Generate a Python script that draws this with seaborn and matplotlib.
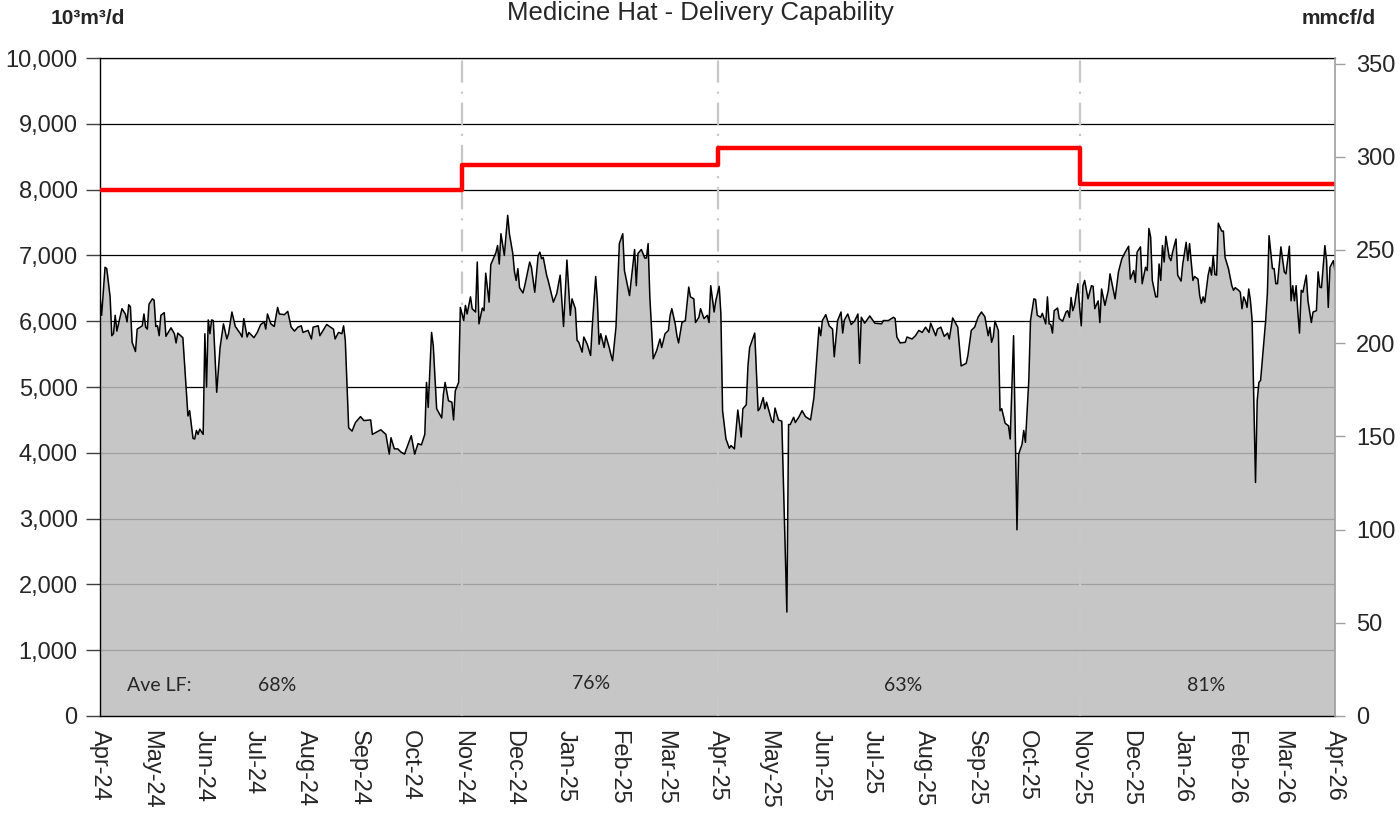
import matplotlib
matplotlib.use("Agg")
import matplotlib.pyplot as plt
import matplotlib.dates as mdates
from matplotlib.ticker import FuncFormatter, MultipleLocator
import numpy as np
import pandas as pd
import seaborn as sns

# -------------data-------------

start_date = "2024-04-01"
end_date = "2026-04-01"

# days since 2024-04-01
day_offsets = [
    0, 1, 3, 4, 6, 7, 8, 9, 10, 13, 15, 16, 17, 18, 19, 21, 22, 25, 26, 27, 28, 29, 31, 32, 33, 34, 35, 36, 38, 39,
    42, 44, 45, 46, 49, 52, 53, 55, 56, 57, 58, 59, 61, 62, 63, 64, 65, 66, 67, 69, 71, 73, 75, 76, 78, 80, 83, 84,
    85, 87, 88, 91, 93, 95, 97, 98, 99, 101, 103, 105, 106, 109, 111, 113, 115, 117, 119, 120, 123, 125, 126, 129,
    130, 134, 138, 139, 141, 143, 144, 145, 147, 149, 151, 154, 156, 160, 161, 166, 169, 171, 172, 174, 176, 178,
    180, 184, 186, 188, 190, 192, 193, 194, 196, 197, 199, 202, 203, 204, 206, 208, 209, 210, 212, 213, 215, 216,
    217, 219, 220, 222, 223, 224, 226, 227, 228, 230, 231, 232, 234, 235, 236, 237, 239, 241, 242, 244, 245, 246,
    247, 248, 250, 251, 254, 255, 257, 259, 260, 261, 262, 264, 265, 268, 270, 272, 273, 274, 276, 278, 279, 281,
    282, 283, 285, 286, 288, 290, 291, 293, 294, 295, 296, 298, 299, 301, 302, 303, 305, 307, 309, 310, 313, 316,
    317, 318, 320, 322, 323, 324, 325, 327, 329, 331, 332, 334, 336, 337, 338, 340, 341, 342, 344, 346, 348, 349,
    351, 352, 354, 355, 357, 359, 360, 361, 363, 364, 366, 367, 368, 370, 372, 373, 375, 377, 379, 380, 382, 383,
    384, 387, 389, 390, 392, 393, 394, 397, 398, 399, 401, 403, 406, 407, 408, 410, 411, 413, 415, 417, 420, 422,
    425, 426, 427, 429, 431, 433, 434, 436, 438, 439, 440, 442, 444, 446, 448, 449, 450, 452, 455, 458, 462, 463,
    466, 469, 470, 471, 473, 476, 477, 480, 482, 484, 486, 488, 490, 491, 494, 495, 497, 499, 501, 502, 504, 507,
    509, 512, 513, 515, 517, 519, 521, 523, 525, 526, 527, 528, 529, 531, 532, 533, 535, 537, 538, 540, 542, 543,
    545, 546, 547, 549, 550, 552, 553, 554, 556, 557, 558, 559, 560, 561, 562, 563, 564, 566, 567, 569, 571, 572,
    573, 574, 575, 576, 578, 579, 580, 581, 582, 584, 586, 587, 588, 590, 591, 592, 594, 596, 597, 599, 600, 602,
    604, 606, 608, 609, 611, 612, 613, 615, 616, 618, 619, 620, 621, 622, 624, 625, 626, 627, 628, 629, 630, 632,
    633, 634, 636, 637, 639, 640, 642, 643, 644, 646, 647, 649, 650, 651, 652, 653, 655, 656, 657, 658, 659, 660,
    661, 663, 664, 665, 667, 669, 670, 671, 673, 674, 675, 676, 677, 678, 679, 680, 681, 683, 684, 685, 686, 688,
    689, 690, 691, 693, 694, 695, 696, 698, 700, 701, 703, 704, 705, 706, 707, 708, 709, 710, 711, 713, 714, 716,
    717, 719, 720, 721, 722, 724, 725, 726, 727, 729, 730,
]

# daily delivery, 10^3 m3/d
flow = [
    6390, 6090, 6820, 6800, 6370, 5780, 5810, 6090, 5850, 6190, 6110, 5990, 6250, 6220, 5680, 5540, 5880, 5930,
    6110, 5910, 5880, 6260, 6340, 6320, 5920, 5930, 5780, 6090, 6130, 5770, 5900, 5810, 5670, 5820, 5750, 4560,
    4640, 4220, 4210, 4340, 4280, 4360, 4280, 5810, 5000, 6020, 5810, 6020, 6010, 4920, 5600, 5960, 5730, 5810,
    6140, 5920, 5810, 5760, 6040, 5760, 5830, 5750, 5830, 5950, 5990, 5880, 6110, 5960, 5920, 6210, 6110, 6100,
    6150, 5910, 5850, 5910, 5930, 5830, 5860, 5730, 5910, 5930, 5780, 5950, 5880, 5730, 5830, 5810, 5930, 5710,
    4380, 4330, 4460, 4550, 4490, 4500, 4280, 4350, 4280, 3980, 4230, 4060, 4060, 4010, 3980, 4260, 3980, 4140,
    4120, 4280, 5070, 4690, 5830, 5630, 4670, 4530, 4890, 5070, 4790, 4770, 4500, 4940, 5070, 6210, 6010, 6240,
    6110, 6370, 6190, 6140, 6900, 5960, 6200, 6160, 6730, 6290, 6860, 6920, 7040, 7150, 6870, 7330, 7000, 7610,
    7330, 7030, 6750, 6620, 6800, 6510, 6430, 6530, 6900, 6820, 6440, 7000, 7050, 6950, 6970, 6700, 6610, 6290,
    6420, 6700, 6310, 5920, 6930, 6090, 6340, 6190, 5710, 5680, 5530, 5760, 5650, 5480, 5930, 6680, 6310, 5650,
    5810, 5600, 5780, 5600, 5490, 5400, 5910, 7180, 7330, 6770, 6390, 7090, 6540, 7030, 7090, 6960, 6960, 7180,
    6370, 5430, 5550, 5730, 5600, 5810, 5860, 6090, 6190, 5960, 5780, 5670, 5980, 6010, 6520, 6370, 6340, 5980,
    6060, 6190, 6040, 6090, 5980, 6540, 6140, 6310, 6530, 6110, 4640, 4210, 4070, 4110, 4060, 4650, 4240, 4670,
    4730, 5320, 5600, 5820, 4640, 4670, 4840, 4670, 4770, 4490, 4460, 4680, 4500, 4480, 1580, 4430, 4430, 4540,
    4460, 4540, 4640, 4550, 4500, 4840, 5910, 5780, 6010, 6100, 5930, 5880, 5460, 6010, 6140, 5820, 6020, 6110,
    5950, 6000, 6110, 5360, 6060, 5970, 6080, 5970, 5960, 6010, 6010, 6060, 6040, 5760, 5670, 5680, 5760, 5730,
    5780, 5860, 5830, 5910, 5830, 5970, 5780, 5880, 5910, 5770, 5820, 5730, 6050, 5910, 5320, 5360, 5480, 5860,
    5910, 6060, 6140, 6070, 5780, 5910, 5680, 5760, 6000, 5860, 4640, 4670, 4450, 4410, 4210, 5780, 2830, 3980,
    4130, 4340, 4160, 5100, 6010, 6340, 6330, 6090, 6060, 6120, 6040, 5960, 6370, 5960, 5950, 5820, 6160, 6200,
    6040, 6000, 6140, 6160, 6060, 6360, 6160, 6240, 6570, 6220, 5930, 6540, 6620, 6340, 6540, 6530, 6190, 6310,
    5980, 6490, 6240, 6470, 6720, 6470, 6340, 6750, 6950, 7050, 7140, 6640, 6770, 6590, 7050, 7130, 6570, 6820,
    6770, 7410, 7280, 6620, 6370, 6370, 6870, 6620, 7150, 6900, 7290, 6970, 6920, 7050, 7250, 6700, 6610, 6870,
    7200, 6920, 7180, 6620, 6680, 6640, 6390, 6270, 6370, 6290, 6700, 6820, 6700, 7000, 6710, 6700, 7490, 7370,
    7370, 6970, 6800, 6540, 6470, 6510, 6470, 6440, 6190, 6370, 6310, 6210, 6490, 6310, 6010, 3550, 4790, 5070,
    5100, 5710, 6010, 6420, 7300, 6800, 6800, 6570, 6570, 7130, 6750, 6720, 7140, 6310, 6540, 6310, 6540, 6140,
    5820, 6470, 6440, 6700, 6310, 5980, 6140, 6160, 6750, 6520, 6510, 7150, 6920, 6210, 6820, 6920, 6770,
]

# capability steps, 10^3 m3/d
capability_dates = ["2024-04-01", "2024-11-01", "2025-04-01", "2025-11-01", "2026-04-01"]
capability = [8000, 8380, 8640, 8090, 8090]

# average load factor per period
lf_labels = ["68%", "76%", "63%", "81%"]
lf_dates = ["2024-07-15", "2025-01-16", "2025-07-20", "2026-01-15"]
period_breaks = ["2024-11-01", "2025-04-01", "2025-11-01"]

M3_PER_MMCF = 28.33

# -------------plot-------------

sns.set_style("white")
plt.rcParams["font.family"] = ["Liberation Sans", "DejaVu Sans"]

df = pd.DataFrame({
    "date": pd.Timestamp(start_date) + pd.to_timedelta(day_offsets, unit="D"),
    "flow": flow,
})
cap = pd.DataFrame({"date": pd.to_datetime(capability_dates), "cap": capability})

fig = plt.figure(figsize=(14, 8.14), dpi=100)
ax = fig.add_axes([0.0714, 0.1204, 0.8822, 0.8083])

for v in range(1000, 10001, 1000):
    ax.axhline(v, color="black", lw=0.9, zorder=1)

ax.fill_between(df["date"], df["flow"], 0, color=(0.737, 0.737, 0.737), alpha=0.85, lw=0, zorder=2)
sns.lineplot(data=df, x="date", y="flow", ax=ax, color="black", lw=1.1, zorder=4)
sns.lineplot(data=cap, x="date", y="cap", ax=ax, color="#ff0000", lw=3.2, drawstyle="steps-post", zorder=5)

for d in period_breaks:
    ax.axvline(pd.Timestamp(d), color="#c8c8c8", lw=1.6, ls=(0, (10, 4, 1, 4)), zorder=3)

ax.set_xlim(pd.Timestamp(start_date), pd.Timestamp(end_date))
ax.set_ylim(0, 10000)
ax.yaxis.set_major_locator(MultipleLocator(1000))
ax.yaxis.set_major_formatter(FuncFormatter(lambda v, p: f"{int(v):,}"))
ax.xaxis.set_major_locator(mdates.MonthLocator())
ax.xaxis.set_major_formatter(mdates.DateFormatter("%b-%y"))
ax.set_xlabel("")
ax.set_ylabel("")
for lbl in ax.get_xticklabels():
    lbl.set_rotation(-90)
ax.tick_params(axis="x", labelsize=17, length=7, width=1, color="#404040", pad=3)
ax.tick_params(axis="y", labelsize=17, length=10, width=1, color="#404040", pad=6)

for s in ["left", "bottom"]:
    ax.spines[s].set_color("black")
    ax.spines[s].set_linewidth(1)
ax.spines["top"].set_color("black")
ax.spines["top"].set_linewidth(0.9)
ax.spines["right"].set_visible(False)

ax2 = ax.twinx()
ax2.set_ylim(0, 10000 / M3_PER_MMCF)
ax2.yaxis.set_major_locator(MultipleLocator(50))
ax2.tick_params(axis="y", labelsize=17, length=7, width=1, color="#a0a0a0", pad=8)
for s in ["left", "top", "bottom"]:
    ax2.spines[s].set_visible(False)
ax2.spines["right"].set_color("#a0a0a0")
ax2.spines["right"].set_linewidth(1.2)

ax.text(pd.Timestamp("2024-04-17"), 470, "Ave LF:", fontsize=14, family="Lato", va="center", zorder=6)
for d, t in zip(lf_dates, lf_labels):
    ax.text(pd.Timestamp(d), 470 if t != "76%" else 500, t, fontsize=14, family="Lato",
            ha="center", va="center", zorder=6)

fig.text(0.5, 0.984, "Medicine Hat - Delivery Capability", ha="center", va="center", fontsize=18.5)
fig.text(0.036, 0.977, "10³m³/d", ha="left", va="center", fontsize=15, fontweight="bold")
fig.text(0.983, 0.977, "mmcf/d", ha="right", va="center", fontsize=15, fontweight="bold")

fig.savefig("out.png", dpi=100)
